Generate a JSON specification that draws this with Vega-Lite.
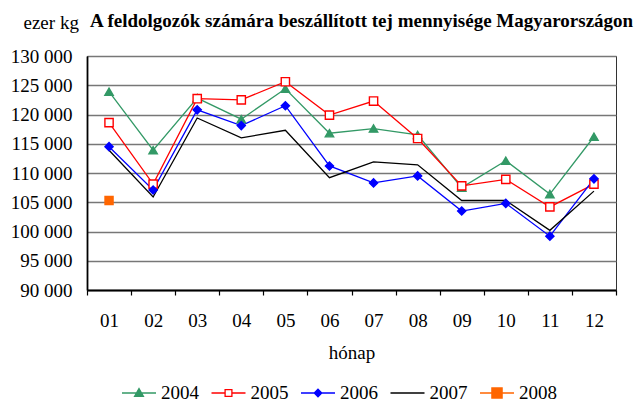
{
  "$schema": "https://vega.github.io/schema/vega-lite/v6.json",
  "width": 529,
  "height": 234,
  "autosize": {"type": "none"},
  "padding": {"left": 87, "top": 56, "right": 21, "bottom": 113},
  "background": "white",
  "config": {
    "view": {"stroke": "#333333", "strokeWidth": 1}
  },
  "title": {
    "text": "A feldolgozók számára beszállított tej mennyisége Magyarországon",
    "font": "Liberation Serif",
    "fontSize": 19,
    "fontWeight": "bold",
    "anchor": "start",
    "frame": "group",
    "dx": 3,
    "dy": 26,
    "offset": 8,
    "color": "#000"
  },
  "data": {
    "values": [
      {"honap": "01", "ev": "2004", "ertek": 123900},
      {"honap": "02", "ev": "2004", "ertek": 113900},
      {"honap": "03", "ev": "2004", "ertek": 122800},
      {"honap": "04", "ev": "2004", "ertek": 119200},
      {"honap": "05", "ev": "2004", "ertek": 124400},
      {"honap": "06", "ev": "2004", "ertek": 116800},
      {"honap": "07", "ev": "2004", "ertek": 117600},
      {"honap": "08", "ev": "2004", "ertek": 116500},
      {"honap": "09", "ev": "2004", "ertek": 107500},
      {"honap": "10", "ev": "2004", "ertek": 112100},
      {"honap": "11", "ev": "2004", "ertek": 106400},
      {"honap": "12", "ev": "2004", "ertek": 116200},
      {"honap": "01", "ev": "2005", "ertek": 118600},
      {"honap": "02", "ev": "2005", "ertek": 108100},
      {"honap": "03", "ev": "2005", "ertek": 122700},
      {"honap": "04", "ev": "2005", "ertek": 122500},
      {"honap": "05", "ev": "2005", "ertek": 125600},
      {"honap": "06", "ev": "2005", "ertek": 119900},
      {"honap": "07", "ev": "2005", "ertek": 122300},
      {"honap": "08", "ev": "2005", "ertek": 115900},
      {"honap": "09", "ev": "2005", "ertek": 107800},
      {"honap": "10", "ev": "2005", "ertek": 108900},
      {"honap": "11", "ev": "2005", "ertek": 104200},
      {"honap": "12", "ev": "2005", "ertek": 108100},
      {"honap": "01", "ev": "2006", "ertek": 114500},
      {"honap": "02", "ev": "2006", "ertek": 107100},
      {"honap": "03", "ev": "2006", "ertek": 120800},
      {"honap": "04", "ev": "2006", "ertek": 118100},
      {"honap": "05", "ev": "2006", "ertek": 121500},
      {"honap": "06", "ev": "2006", "ertek": 111200},
      {"honap": "07", "ev": "2006", "ertek": 108300},
      {"honap": "08", "ev": "2006", "ertek": 109500},
      {"honap": "09", "ev": "2006", "ertek": 103500},
      {"honap": "10", "ev": "2006", "ertek": 104800},
      {"honap": "11", "ev": "2006", "ertek": 99200},
      {"honap": "12", "ev": "2006", "ertek": 109000},
      {"honap": "01", "ev": "2007", "ertek": 113900},
      {"honap": "02", "ev": "2007", "ertek": 105900},
      {"honap": "03", "ev": "2007", "ertek": 119400},
      {"honap": "04", "ev": "2007", "ertek": 116000},
      {"honap": "05", "ev": "2007", "ertek": 117300},
      {"honap": "06", "ev": "2007", "ertek": 109200},
      {"honap": "07", "ev": "2007", "ertek": 111900},
      {"honap": "08", "ev": "2007", "ertek": 111400},
      {"honap": "09", "ev": "2007", "ertek": 105300},
      {"honap": "10", "ev": "2007", "ertek": 105300},
      {"honap": "11", "ev": "2007", "ertek": 100200},
      {"honap": "12", "ev": "2007", "ertek": 106900},
      {"honap": "01", "ev": "2008", "ertek": 105300}
    ]
  },
  "encoding": {
    "x": {
      "field": "honap",
      "type": "ordinal",
      "scale": {"type": "band", "paddingInner": 0, "paddingOuter": 0},
      "axis": {
        "title": "hónap",
        "titleFont": "Liberation Serif",
        "titleFontSize": 19,
        "titleFontWeight": 400,
        "titleColor": "#000",
        "titleBaseline": "middle",
        "titleY": 62,
        "labelAngle": 0,
        "labelFont": "Liberation Serif",
        "labelFontWeight": 400,
        "labelFontSize": 19,
        "labelColor": "#000",
        "labelBaseline": "middle",
        "labelPadding": 25,
        "tickBand": "extent",
        "ticks": true,
        "tickSize": 5,
        "tickColor": "#000",
        "tickWidth": 1.2,
        "domainColor": "#000",
        "domainWidth": 1.8,
        "grid": false
      }
    },
    "y": {
      "field": "ertek",
      "type": "quantitative",
      "scale": {"domain": [90000, 130000], "nice": false, "zero": false},
      "axis": {
        "values": [90000, 95000, 100000, 105000, 110000, 115000, 120000, 125000, 130000],
        "labelExpr": "replace(format(datum.value, ','), ',', ' ')",
        "labelFont": "Liberation Serif",
        "labelFontWeight": 500,
        "labelFontSize": 19,
        "labelColor": "#000",
        "labelPadding": 15,
        "ticks": false,
        "domainColor": "#000",
        "domainWidth": 1.8,
        "grid": true,
        "gridColor": "#777777",
        "gridWidth": 1.5,
        "title": "ezer kg",
        "titleFont": "Liberation Serif",
        "titleColor": "#000",
        "titleAngle": 0,
        "titleFontSize": 19,
        "titleFontWeight": 300,
        "titleAlign": "left",
        "titleBaseline": "alphabetic",
        "titleX": -64,
        "titleY": -28
      }
    }
  },
  "layer": [
    {
      "mark": {"type": "line", "strokeJoin": "miter"},
      "encoding": {
        "color": {
          "field": "ev",
          "type": "nominal",
          "scale": {
            "domain": ["2004", "2005", "2006", "2007", "2008"],
            "range": ["#339966", "#ff0000", "#0000ff", "#000000", "#ff6600"]
          },
          "legend": {
            "title": null,
            "orient": "none",
            "legendX": 34,
            "legendY": 319,
            "direction": "horizontal",
            "labelFont": "Liberation Serif",
            "labelFontWeight": "normal",
            "labelFontSize": 19,
            "labelColor": "#000",
            "labelOffset": 4,
            "columnPadding": 9.5,
            "symbolSize": 1156,
            "symbolStrokeWidth": 1.5,
            "encode": {
              "symbols": {
                "update": {
                  "shape": {"signal": "datum.value === '2004' ? 'M-1,0H1M0,-0.26L0.26,0.2L-0.26,0.2Z' : datum.value === '2005' ? 'M-1,0H-0.2M0.2,0H1M-0.2,-0.2H0.2V0.2H-0.2Z' : datum.value === '2006' ? 'M-1,0H1M0,-0.22L0.22,0L0,0.22L-0.22,0Z' : datum.value === '2007' ? 'M-1,0H1' : 'M-1,0H1M-0.3,-0.3H0.3V0.3H-0.3Z'"},
                  "fill": {"signal": "datum.value === '2004' ? '#339966' : datum.value === '2005' ? '#ffffff' : datum.value === '2006' ? '#0000ff' : datum.value === '2007' ? 'transparent' : '#ff6600'"},
                  "fillOpacity": {"value": 1},
                  "strokeWidth": {"signal": "datum.value === '2007' ? 3 : 1.5"},
                  "opacity": {"value": 1}
                }
              }
            }
          }
        },
        "strokeWidth": {
          "field": "ev",
          "type": "ordinal",
          "scale": {"domain": ["2004", "2005", "2006", "2007", "2008"], "range": [1.3, 1.3, 1.3, 3, 1.3]},
          "legend": null
        }
      }
    },
    {
      "transform": [{"filter": "datum.ev !== '2007'"}],
      "mark": {"type": "point", "filled": true, "opacity": 1, "strokeWidth": 1.4},
      "encoding": {
        "shape": {
          "field": "ev",
          "type": "nominal",
          "scale": {"domain": ["2004", "2005", "2006", "2008"], "range": ["triangle-up", "square", "diamond", "square"]},
          "legend": null
        },
        "fill": {
          "field": "ev",
          "type": "nominal",
          "scale": {"domain": ["2004", "2005", "2006", "2008"], "range": ["#339966", "#ffffff", "#0000ff", "#ff6600"]},
          "legend": null
        },
        "stroke": {
          "field": "ev",
          "type": "nominal",
          "scale": {"domain": ["2004", "2005", "2006", "2008"], "range": ["#339966", "#ff0000", "#0000ff", "#ff6600"]},
          "legend": null
        },
        "size": {
          "field": "ev",
          "type": "ordinal",
          "scale": {"domain": ["2004", "2005", "2006", "2008"], "range": [70, 65, 70, 150]},
          "legend": null
        }
      }
    }
  ]
}
